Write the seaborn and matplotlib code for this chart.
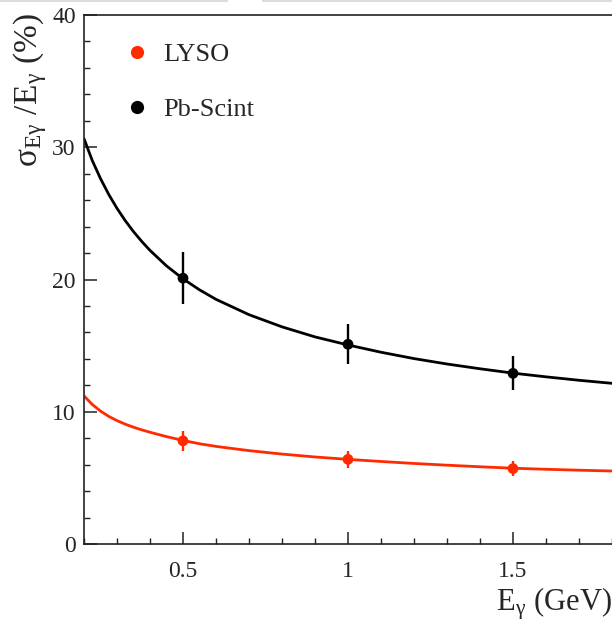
import matplotlib
matplotlib.use("Agg")
import matplotlib.pyplot as plt
import seaborn as sns
import pandas as pd
from matplotlib.lines import Line2D
from matplotlib.patches import Rectangle
from matplotlib.ticker import MultipleLocator, FixedLocator

# ---------------- data ----------------
energy_pts = [0.5, 1.0, 1.5]
lyso_res = [7.8, 6.4, 5.7]
lyso_err = [0.77, 0.63, 0.57]
pb_res = [20.1, 15.1, 12.9]
pb_err = [1.95, 1.5, 1.28]

fit_energy = [0.2, 0.225, 0.25, 0.275, 0.3, 0.325, 0.35, 0.375, 0.4, 0.45, 0.5, 0.55,
              0.6, 0.7, 0.8, 0.9, 1.0, 1.1, 1.2, 1.3, 1.4, 1.5, 1.6, 1.7, 1.8]
lyso_fit = [11.2, 10.55, 10.05, 9.65, 9.33, 9.06, 8.83, 8.63, 8.45, 8.12, 7.83, 7.58,
            7.38, 7.06, 6.8, 6.58, 6.40, 6.24, 6.09, 5.96, 5.84, 5.73, 5.65, 5.58, 5.52]
pb_fit = [30.65, 29.0, 27.63, 26.43, 25.38, 24.45, 23.62, 22.88, 22.2, 21.03, 20.05, 19.22,
          18.5, 17.34, 16.42, 15.66, 15.05, 14.5, 14.02, 13.61, 13.25, 12.92, 12.64, 12.38, 12.15]

x_ticks = [0.5, 1.0, 1.5]
x_ticklabels = ["0.5", "1", "1.5"]
y_ticks = [0, 10, 20, 30, 40]
y_ticklabels = ["0", "10", "20", "30", "40"]
series_names = ["LYSO", "Pb-Scint"]

RED = "#ff2a00"
BLACK = "#000000"

# ---------------- style ----------------
sns.set_style("ticks")
plt.rcParams["font.family"] = ["Liberation Serif", "DejaVu Serif"]
plt.rcParams["mathtext.fontset"] = "stix"

W, H = 612, 624
fig = plt.figure(figsize=(W / 100, H / 100), dpi=100)
fig.patch.set_facecolor("white")
ax = fig.add_axes([84 / W, 80 / H, 528 / W, 529 / H])

# faint strip at the very top of the reference image
fig.patches.append(Rectangle((0, 1 - 2 / H), 228 / W, 2 / H, transform=fig.transFigure,
                             facecolor="#dcdcdc", edgecolor="none"))
fig.patches.append(Rectangle((262 / W, 1 - 2 / H), 1 - 262 / W, 2 / H, transform=fig.transFigure,
                             facecolor="#dcdcdc", edgecolor="none"))

fit_df = pd.DataFrame({"E": fit_energy * 2,
                       "res": lyso_fit + pb_fit,
                       "det": [series_names[0]] * len(fit_energy) + [series_names[1]] * len(fit_energy)})
pts_df = pd.DataFrame({"E": energy_pts * 2,
                       "res": lyso_res + pb_res,
                       "err": lyso_err + pb_err,
                       "det": [series_names[0]] * 3 + [series_names[1]] * 3})
palette = {series_names[0]: RED, series_names[1]: BLACK}

sns.lineplot(data=fit_df, x="E", y="res", hue="det", palette=palette, estimator=None,
             sort=True, linewidth=2.0, legend=False, ax=ax, zorder=2)

for name in series_names:
    sub = pts_df[pts_df["det"] == name]
    ax.errorbar(sub["E"], sub["res"], yerr=sub["err"], fmt="none",
                ecolor=palette[name], elinewidth=1.7, capsize=0, zorder=3)

sns.scatterplot(data=pts_df, x="E", y="res", hue="det", palette=palette, s=60,
                edgecolor="none", legend=False, ax=ax, zorder=4)

ax.set_xlim(0.2, 1.8)
ax.set_ylim(0, 40)
ax.xaxis.set_major_locator(FixedLocator(x_ticks))
ax.set_xticklabels(x_ticklabels)
ax.xaxis.set_minor_locator(MultipleLocator(0.1))
ax.yaxis.set_major_locator(FixedLocator(y_ticks))
ax.set_yticklabels(y_ticklabels)
ax.yaxis.set_minor_locator(MultipleLocator(2))

ax.tick_params(which="both", direction="in", top=False, right=False, color="#222222")
ax.tick_params(axis="x", which="major", length=9, width=1.1, labelsize=17, pad=12)
ax.tick_params(axis="y", which="major", length=9, width=1.1, labelsize=17, pad=6)
ax.tick_params(which="minor", length=4.5, width=1.0)

for side in ["left", "bottom", "top"]:
    ax.spines[side].set_linewidth(1.2)
    ax.spines[side].set_color("#222222")
ax.spines["right"].set_visible(False)

ax.set_xlabel("")
ax.set_ylabel("")

fig.text(1.0, 13 / H, "E$_{\\mathregular{γ}}$ (GeV)", ha="right", va="baseline", fontsize=22)
fig.text(30 / W, 1 - 13 / H, "σ$_{\\mathregular{Eγ}}$ /E$_{\\mathregular{γ}}$ (%)", ha="center", va="top",
         rotation=90, fontsize=24)

handles = [Line2D([], [], marker="o", ls="none", color=palette[n], markersize=9.5, markeredgewidth=0)
           for n in series_names]
ax.legend(handles, series_names, loc="upper left", bbox_to_anchor=(0.055, 0.968),
          frameon=False, fontsize=19, handlelength=1.0, handletextpad=0.5,
          labelspacing=1.2, borderpad=0.4, borderaxespad=0)

fig.savefig("out.png", dpi=100)
